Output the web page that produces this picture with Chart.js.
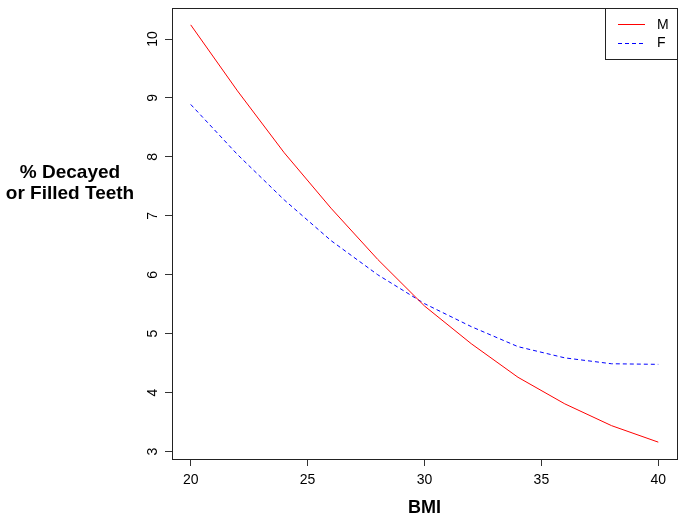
<!DOCTYPE html>
<html>
<head>
<meta charset="utf-8">
<script src="https://cdn.jsdelivr.net/npm/chart.js@4/dist/chart.umd.min.js"></script>
<style>
  body { margin: 0; background: #fff; }
  canvas { display: block; }
</style>
</head>
<body>
<canvas id="myLineChart" width="683" height="522"></canvas>
<script>
// BMI values (x) and predicted % decayed or filled teeth
var bmi = [20, 22, 24, 26, 28, 30, 32, 34, 36, 38, 40];
var valoresM = [10.24, 9.12, 8.07, 7.13, 6.26, 5.47, 4.83, 4.26, 3.81, 3.44, 3.16];
var valoresF = [8.89, 8.04, 7.27, 6.58, 6.00, 5.51, 5.12, 4.78, 4.59, 4.49, 4.48];
var xTicks = [20, 25, 30, 35, 40];
var yTicks = [3, 4, 5, 6, 7, 8, 9, 10];
var yTitle = ['% Decayed', 'or Filled Teeth'];
var xTitle = 'BMI';

var fonte = '"Liberation Sans", Arial, Helvetica, sans-serif';

function pontos(vals) {
    return bmi.map(function (b, i) { return { x: b, y: vals[i] }; });
}

var data = {
    datasets: [{
        label: 'M',
        data: pontos(valoresM),
        borderColor: '#ff0000',
        borderWidth: 1,
        pointRadius: 0,
        tension: 0,
        fill: false
    },
    {
        label: 'F',
        data: pontos(valoresF),
        borderColor: '#0000ff',
        borderWidth: 1,
        borderDash: [4, 3],
        pointRadius: 0,
        tension: 0,
        fill: false
    }]
};

// caixa, rotulos do eixo y (girados), titulo do eixo y e legenda
var extras = {
    id: 'extras',
    afterDraw: function (chart) {
        var c = chart.ctx;
        var a = chart.chartArea;
        var sy = chart.scales.y;
        c.save();
        c.strokeStyle = '#222';
        c.lineWidth = 1;
        c.strokeRect(Math.round(a.left) + 0.5, Math.round(a.top) + 0.5,
            Math.round(a.right - a.left), Math.round(a.bottom - a.top));

        // rotulos do eixo y, lidos de baixo para cima
        c.fillStyle = '#000';
        c.font = '14px ' + fonte;
        c.textAlign = 'center';
        c.textBaseline = 'middle';
        yTicks.forEach(function (v) {
            var py = sy.getPixelForValue(v);
            c.save();
            c.translate(153, py);
            c.rotate(-Math.PI / 2);
            c.fillText(String(v), 0, 0);
            c.restore();
        });

        c.font = 'bold 19px ' + fonte;
        c.fillText(yTitle[0], 70, 173);
        c.fillText(yTitle[1], 70, 194);

        // legenda
        var lx = 605, ly = Math.round(a.top);
        var rx = Math.round(a.right);
        c.strokeRect(lx + 0.5, ly + 0.5, rx - lx, 51);
        c.font = '14px ' + fonte;
        c.textAlign = 'left';
        chart.data.datasets.forEach(function (ds, i) {
            var y = ly + 16 + i * 18.5;
            c.strokeStyle = ds.borderColor;
            c.setLineDash(ds.borderDash || []);
            c.beginPath();
            c.moveTo(618, Math.round(y) + 0.5);
            c.lineTo(645, Math.round(y) + 0.5);
            c.stroke();
            c.setLineDash([]);
            c.fillStyle = '#000';
            c.fillText(ds.label, 657, y + 1);
        });
        c.restore();
    }
};

var options = {
    responsive: false,
    animation: false,
    layout: { padding: { top: 8, right: 6, left: 0, bottom: 0 } },
    plugins: {
        legend: { display: false },
        tooltip: { enabled: false }
    },
    scales: {
        x: {
            type: 'linear',
            min: 19.2,
            max: 40.8,
            afterBuildTicks: function (s) { s.ticks = xTicks.map(function (v) { return { value: v }; }); },
            afterFit: function (s) { s.height = 63; },
            grid: { drawOnChartArea: false, drawTicks: true, tickLength: 7, color: '#333' },
            border: { display: true, color: '#222' },
            ticks: { color: '#000', font: { family: fonte, size: 14 }, padding: 6, maxRotation: 0 },
            title: { display: true, text: xTitle, color: '#000', font: { family: fonte, size: 18, weight: 'bold' }, padding: { top: 2, bottom: 3 } }
        },
        y: {
            type: 'linear',
            min: 2.874,
            max: 10.526,
            afterBuildTicks: function (s) { s.ticks = yTicks.map(function (v) { return { value: v }; }); },
            afterFit: function (s) { s.width = 172; },
            grid: { drawOnChartArea: false, drawTicks: true, tickLength: 7, color: '#333' },
            border: { display: true, color: '#222' },
            ticks: { display: false }
        }
    }
};

var ctx = document.getElementById('myLineChart').getContext('2d');
var myLineChart = new Chart(ctx, {
    type: 'line',
    data: data,
    options: options,
    plugins: [extras]
});
</script>
</body>
</html>
